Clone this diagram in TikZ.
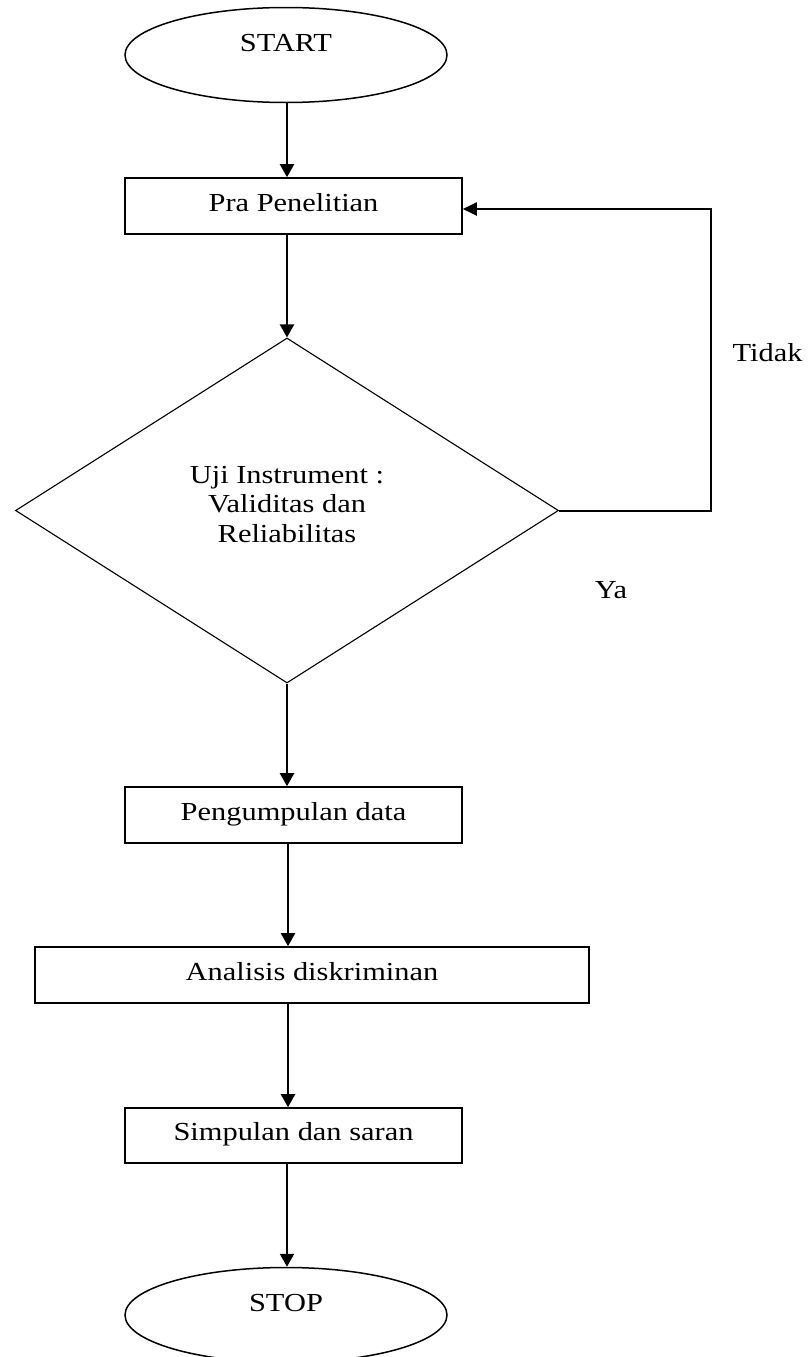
\documentclass[tikz,border=0pt]{standalone}
\usepackage{fontspec}
\setmainfont{Liberation Serif}
\usetikzlibrary{shapes.geometric,arrows.meta}
\newcommand{\sx}[1]{\scalebox{1.17}[1]{#1}}
\tikzset{
  base/.style={font=\fontsize{26}{29.3}\selectfont, inner sep=0pt},
  procbox/.style={base, draw, line width=1.6pt, minimum height=56pt, text height=10pt, text depth=0pt},
  term/.style={base, draw, ellipse, line width=1.5pt, minimum width=322pt, minimum height=95pt, text height=0pt, text depth=7pt},
  decision/.style={draw, diamond, line width=1.1pt, minimum width=543pt, minimum height=345pt, inner sep=0pt, aspect=1.57},
  lbl/.style={base, text height=17pt, text depth=0pt},
  dlbl/.style={base, align=center},
  arr/.style={line width=2.2pt, -{Triangle[length=13pt,width=14pt]}},
  link/.style={line width=2pt, -{Triangle[length=14pt,width=13pt]}},
}
\begin{document}
\begin{tikzpicture}[x=1pt,y=-1pt]
\useasboundingbox (0,0) rectangle (809,1357);
\fill[white] (0,0) rectangle (809,1357);
\clip (0,0) rectangle (809,1357);

\node[term] (start) at (286,55) {\sx{START}};
\node[procbox, minimum width=337pt] (pra) at (293.5,206) {\sx{Pra Penelitian}};
\node[decision] (dia) at (287,510.5) {};
\node[dlbl] (dtext) at (287,504.5) {\sx{Uji Instrument :}\\\sx{Validitas dan}\\\sx{Reliabilitas}};
\node[procbox, minimum width=337pt] (peng) at (293.5,815) {\sx{Pengumpulan data}};
\node[procbox, minimum width=554pt] (anal) at (312,975) {\sx{Analisis diskriminan}};
\node[procbox, minimum width=337pt, minimum height=55pt] (simp) at (293.5,1135.5) {\sx{Simpulan dan saran}};
\node[term] (stop) at (286,1315) {\sx{STOP}};

\node[lbl] (tidak) at (767.5,352.5) {\sx{Tidak}};
\node[lbl] (ya) at (611,589.5) {\sx{Ya}};

\coordinate (loopc) at (711,209);

\draw[arr] (dia.north |- start.south) -- (dia.north |- pra.north);
\draw[arr] (dia.north |- pra.south) -- (dia.north);
\draw[arr] (dia.south) -- (dia.south |- peng.north);
\draw[arr] ([xshift=1pt]dia.south |- peng.south) -- ([xshift=1pt]dia.south |- anal.north);
\draw[arr] ([xshift=1pt]dia.south |- anal.south) -- ([xshift=1pt]dia.south |- simp.north);
\draw[arr] (dia.south |- simp.south) -- (dia.south |- stop.north);
\draw[link] (dia.east) -| (loopc) -- (pra.east |- loopc);
\end{tikzpicture}
\end{document}
